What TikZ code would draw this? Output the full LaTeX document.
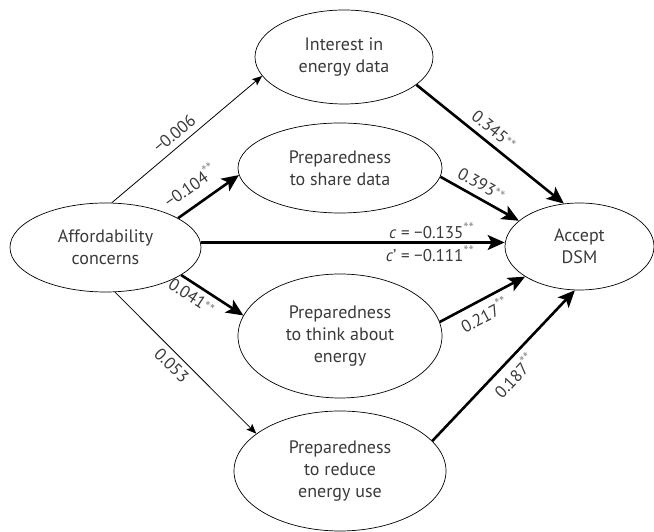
\documentclass[tikz,border=0pt]{standalone}
\usepackage{fontspec}
\setmainfont{PT Sans}
\usetikzlibrary{shapes.geometric,arrows.meta}
\definecolor{txtgray}{HTML}{3A3A3A}
\definecolor{stargray}{HTML}{8E8E8E}
\newcommand{\sigup}{{\color{stargray}\raisebox{0.6ex}{\fontsize{15}{15}\selectfont **}}}
\newcommand{\siglow}{{\color{stargray}\raisebox{0ex}{\fontsize{15}{15}\selectfont **}}}
\begin{document}
\begin{tikzpicture}[x=1pt,y=1pt]
  \tikzset{ var/.style={ellipse,draw,line width=0.7pt,align=center,inner sep=0pt,
      text=txtgray,font=\fontsize{18}{22}\selectfont},
    weak/.style={-{Stealth[length=10pt,width=8pt,inset=2pt]},line width=0.8pt},
    strong/.style={-{Stealth[length=17pt,width=15pt,inset=4pt]},line width=2.6pt},
    lab/.style={text=txtgray,font=\fontsize{17}{20}\selectfont,inner sep=2pt},
  }
  \useasboundingbox (0,0) rectangle (654,532);

  % the variables
  \node[var,minimum width=178pt,minimum height=94pt] (I) at (344,475) {Interest in\\energy data};
  \node[var,minimum width=204pt,minimum height=90pt] (S) at (340,364) {Preparedness\\to share data};
  \node[var,minimum width=191pt,minimum height=89pt] (A) at (105.5,284.5) {Affordability\\concerns};
  \node[var,minimum width=149pt,minimum height=87pt] (D) at (579.5,285.5) {Accept\\DSM};
  \node[var,minimum width=204pt,minimum height=124pt] (T) at (340,196) {Preparedness\\to think about\\energy};
  \node[var,minimum width=212pt,minimum height=120pt] (R) at (340,61) {Preparedness\\to reduce\\energy use};

  % paths from affordability concerns
  \draw[weak] (A.82) -- (I.193) node [lab, pos=0.47, sloped, above=4pt] {−0.006};
  \draw[strong] (A.22) -- (S.184) node [lab, pos=0.38, sloped, above=9pt] {−0.104\sigup};
  \draw[strong] (A.3) -- (D.west |- A.3)
    node [lab, pos=0.91, anchor=south east] {\textit{c} = −0.135\sigup}
    node [lab, pos=0.91, anchor=north east] {\textit{c}’ = −0.111\sigup};
  \draw[strong] (A.-20) -- (T.168) node [lab, pos=0.28, sloped, below=3pt] {0.041\siglow};
  \draw[weak] (A.-78) -- (R.156) node [lab, pos=0.46, sloped, below=3pt] {0.053};

  % paths to accept DSM
  \draw[strong] (I.-21) -- (D.110) node [lab, pos=0.47, sloped, above=4pt] {0.345\siglow};
  \draw[strong] (S.-5) -- (D.157) node [lab, pos=0.44, sloped, above=4pt] {0.393\siglow};
  \draw[strong] (T.8) -- (D.209) node [lab, pos=0.44, sloped, below=3pt] {0.217\sigup};
  \draw[strong] (R.18) -- (D.264) node [lab, pos=0.5, sloped, below=3pt] {0.187\sigup};
\end{tikzpicture}
\end{document}
